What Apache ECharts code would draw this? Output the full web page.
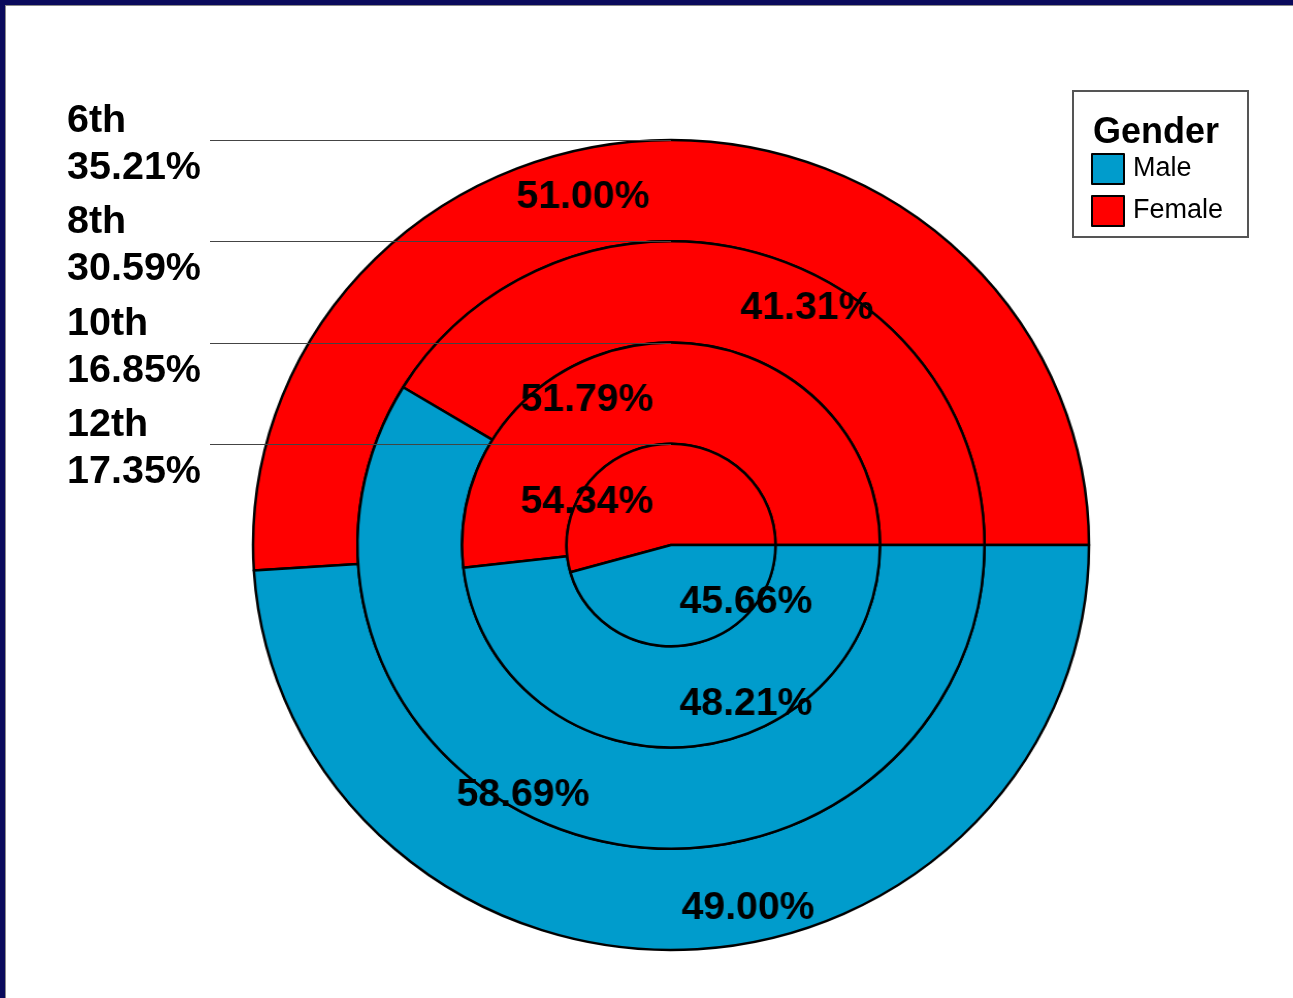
<!DOCTYPE html>
<html>
<head>
<meta charset="utf-8">
<script src="https://cdn.jsdelivr.net/npm/echarts@6/dist/echarts.min.js"></script>
<style>
  html, body { margin: 0; padding: 0; background: #0a0a5c; overflow: hidden; }
  #frame { position: absolute; left: 5px; top: 5px; width: 1288px; height: 993px; background: #8a8a8a; }
  #panel { position: absolute; left: 1px; top: 1px; width: 1287px; height: 992px; background: #fff; overflow: hidden; }
  #pie, #overlay { position: absolute; left: 0; top: 0; width: 1287px; height: 992px; }
  /* the original pie is drawn a little wider than tall */
  #pie { transform: scaleX(1.032); transform-origin: 665px 539px; }
</style>
</head>
<body>
<div id="frame"><div id="panel"><div id="pie"></div><div id="overlay"></div></div></div>
<script>
// rings from outside in
const grades = ["6th", "8th", "10th", "12th"];
const gradeShare = [35.21, 30.59, 16.85, 17.35];
const female = [51.0, 41.31, 51.79, 54.34];
const male = [49.0, 58.69, 48.21, 45.66];

const RED = "#ff0000";
const BLUE = "#009ccc";
const FONT = "Liberation Sans, Arial, sans-serif";

// pie geometry (chart px)
const CX = 665, CY = 539;
const SX = 1.032;
const RING = 101.25;
// where each ring's two labels sit, relative to the centre: [female, male]
const labelOffsets = [
  [[-88, -347], [77, 364]],
  [[136, -236], [-148, 251]],
  [[-84, -144], [75, 160]],
  [[-84, -42], [75, 58]],
];

const pie = echarts.init(document.getElementById("pie"));
const overlay = echarts.init(document.getElementById("overlay"));

const series = grades.map((g, i) => ({
  name: g,
  type: "pie",
  center: [CX, CY],
  radius: [RING * (3 - i), RING * (4 - i)],
  startAngle: 0,
  clockwise: false,
  silent: true,
  emphasis: { disabled: true },
  itemStyle: { borderColor: "#000", borderWidth: 2.5 },
  label: {
    show: true,
    position: "inside",
    formatter: (p) => p.value.toFixed(2) + "%",
    color: "#000",
    fontSize: 38,
    fontWeight: "bold",
    fontFamily: FONT,
  },
  labelLine: { show: false },
  labelLayout: (p) => {
    const o = labelOffsets[p.seriesIndex][p.dataIndex];
    return { x: CX + o[0] / SX, y: CY + o[1], align: "center", verticalAlign: "middle" };
  },
  data: [
    { name: "Female", value: female[i], itemStyle: { color: RED } },
    { name: "Male", value: male[i], itemStyle: { color: BLUE } },
  ],
}));

pie.setOption({ animation: false, series });

// grade labels with leader lines to the top of each ring
const gradeGraphics = [];
grades.forEach((g, i) => {
  const y = Math.round(CY - RING * (4 - i));
  gradeGraphics.push({
    type: "line",
    shape: { x1: 204, y1: y + 0.5, x2: CX, y2: y + 0.5 },
    style: { stroke: "#444", lineWidth: 1 },
  });
  gradeGraphics.push({
    type: "text",
    x: 61,
    y: y + 5,
    style: {
      text: g + "\n" + gradeShare[i].toFixed(2) + "%",
      font: "bold 39.5px " + FONT,
      lineHeight: 47,
      fill: "#000",
      verticalAlign: "middle",
      align: "left",
    },
  });
});

// legend only: an empty pie carries the two entries and colours
overlay.setOption({
  animation: false,
  legend: {
    data: ["Male", "Female"],
    orient: "vertical",
    left: 1085,
    top: 147,
    padding: 0,
    itemWidth: 32,
    itemHeight: 30,
    itemGap: 10,
    icon: "rect",
    selectedMode: false,
    itemStyle: { borderColor: "#000", borderWidth: 2, opacity: 1 },
    textStyle: { fontSize: 27, color: "#000", fontFamily: FONT, padding: [0, 0, 0, 4] },
  },
  graphic: [
    {
      type: "rect",
      z: -1,
      shape: { x: 1067, y: 85, width: 175, height: 146 },
      style: { fill: "#fff", stroke: "#555", lineWidth: 2 },
    },
    {
      type: "text",
      x: 1087,
      y: 127,
      style: { text: "Gender", font: "bold 36px " + FONT, fill: "#000", verticalAlign: "middle" },
    },
    ...gradeGraphics,
  ],
  series: [
    {
      type: "pie",
      center: [-500, -500],
      radius: 1,
      silent: true,
      label: { show: false },
      labelLine: { show: false },
      data: [
        { name: "Male", value: 1, itemStyle: { color: BLUE } },
        { name: "Female", value: 1, itemStyle: { color: RED } },
      ],
    },
  ],
});
</script>
</body>
</html>
